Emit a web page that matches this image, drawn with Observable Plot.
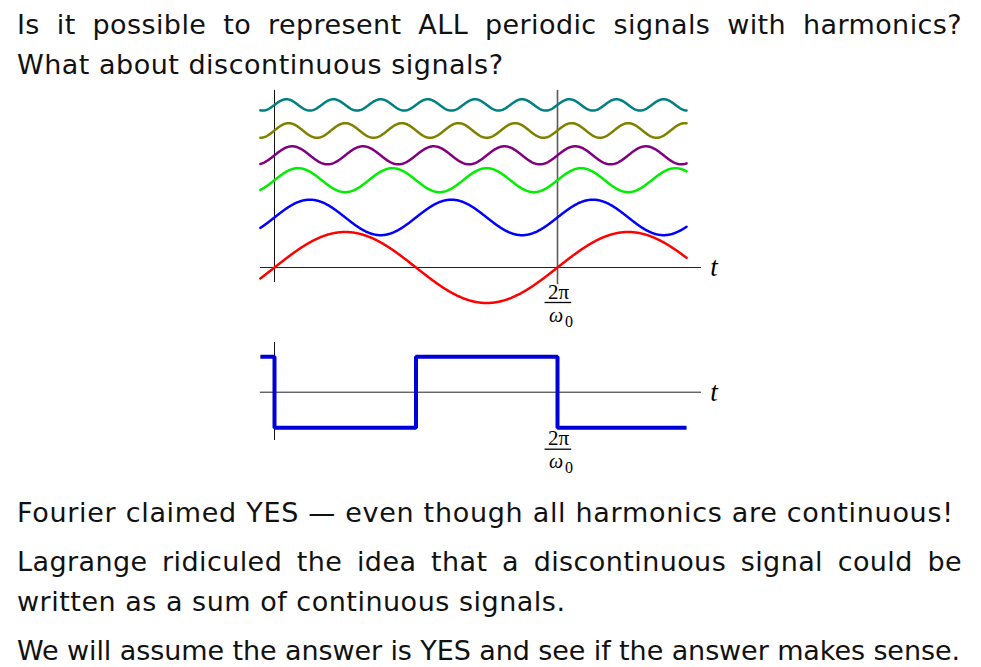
<!DOCTYPE html>
<html>
<head>
<meta charset="utf-8">
<script src="https://cdn.jsdelivr.net/npm/d3@7"></script>
<script src="https://cdn.jsdelivr.net/npm/@observablehq/plot@0.6"></script>
<style>
  html, body { margin: 0; padding: 0; background: #fff; }
  body { width: 981px; height: 667px; overflow: hidden; position: relative; font-family: "DejaVu Sans", Verdana, sans-serif; color: #111; }
  .ln { position: absolute; left: 17px; font-size: 27px; line-height: 1; white-space: nowrap; }
  .ln.just { white-space: normal; text-align: justify; text-align-last: justify; }
  #topPlot { position: absolute; left: 240px; top: 80px; }
  #botPlot { position: absolute; left: 240px; top: 335px; }
</style>
</head>
<body>
<div id="topPlot"></div>
<div id="botPlot"></div>
<script>
// ---------- data ----------
const slideLines = [
  "Is it possible to represent ALL periodic signals with harmonics?",
  "What about discontinuous signals?",
  "Fourier claimed YES — even though all harmonics are continuous!",
  "Lagrange ridiculed the idea that a discontinuous signal could be",
  "written as a sum of continuous signals.",
  "We will assume the answer is YES and see if the answer makes sense."
];
const harmonicN      = [1, 2, 3, 4, 5, 6];
const harmonicColor  = ["#ff0000", "#0000ff", "#00ee00", "#800080", "#808000", "#008080"];
const harmonicAmp    = [1.0, 0.50, 0.338, 0.254, 0.206, 0.16];   // relative to fundamental
const harmonicOffset = [0, 1.41, 2.46, 3.16, 3.86, 4.58];        // vertical stacking
const tStart = -0.05, tEnd = 1.456;                              // in periods (2π/ω0)
const periodTickT = 1;
const periodNum = "2π";
const periodDenSym = "ω";
const periodDenSub = "0";
const squareT = [-0.05, 0, 0.5, 1, 1.456];
const squareV = [1, -1, 1, -1, -1];

// ---------- text layout ----------
const lineBaseline = [34, 74, 522, 571, 611, 660];
const lineRight    = [962, 503, 953, 962, 565, 960];
const lineJustify  = [true, false, false, true, false, false];
const made = [];
slideLines.forEach((txt, i) => {
  const div = document.createElement("div");
  div.className = "ln" + (lineJustify[i] ? " just" : "");
  const span = document.createElement("span");
  span.textContent = txt;
  const mk = document.createElement("span");
  mk.style.cssText = "display:inline-block;width:0;height:0;vertical-align:baseline";
  div.append(span, mk);
  document.body.append(div);
  made.push({div, span, mk, txt, i});
});
const lsList = [];
made.forEach(m => {
  if (!lineJustify[m.i]) {
    const w = m.span.getBoundingClientRect().width;
    const target = lineRight[m.i] - 17;
    const ls = (target - w) / (m.txt.length - 1);
    m.span.style.letterSpacing = ls + "px";
    lsList.push(ls);
  }
});
const avgLs = d3.mean(lsList);
made.forEach(m => {
  if (lineJustify[m.i]) {
    m.div.style.width = (lineRight[m.i] - 17) + "px";
    m.span.style.letterSpacing = avgLs + "px";
  }
  const base = m.mk.offsetTop;
  m.div.style.top = (lineBaseline[m.i] - base) + "px";
});

// ---------- top plot: harmonics ----------
const N = 800;
const wave = harmonicN.flatMap((n, i) => d3.range(N + 1).map(k => {
  const t = tStart + (tEnd - tStart) * k / N;
  return {n, t, v: harmonicOffset[i] + harmonicAmp[i] * Math.sin(2 * Math.PI * n * t)};
}));

const serif = "'Liberation Serif', 'DejaVu Serif', serif";
function fracLabel(dyNum, dyBar, dyDen) {
  return [
    Plot.text([periodNum], {x: periodTickT, y: 0, dx: 1, dy: dyNum, lineAnchor: "bottom", fontFamily: serif, fontSize: 21, fill: "#000"}),
    Plot.ruleY([0], {x1: periodTickT - 0.044, x2: periodTickT + 0.05, dy: dyBar, stroke: "#000", strokeWidth: 1.3}),
    Plot.text([periodDenSym], {x: periodTickT, y: 0, dx: 5.5, dy: dyDen, textAnchor: "end", lineAnchor: "bottom", fontFamily: serif, fontStyle: "italic", fontSize: 20, fill: "#000"}),
    Plot.text([periodDenSub], {x: periodTickT, y: 0, dx: 7.5, dy: dyDen + 5, textAnchor: "start", lineAnchor: "bottom", fontFamily: serif, fontSize: 16, fill: "#000"})
  ];
}

const topChart = Plot.plot({
  width: 500, height: 260, margin: 0,
  x: {domain: [0, 1], range: [34, 317], axis: null},
  y: {domain: [0, 1], range: [187, 151.5], axis: null},
  color: {type: "ordinal", domain: harmonicN, range: harmonicColor},
  marks: [
    Plot.ruleY([0], {x1: -0.05, x2: 1.509, stroke: "#222", strokeWidth: 1}),
    Plot.ruleX([0], {y1: -0.42, y2: 4.99, stroke: "#111", strokeWidth: 1}),
    Plot.ruleX([periodTickT], {y1: -0.48, y2: 4.99, stroke: "#5a5a5a", strokeWidth: 1.6}),
    Plot.line(wave, {x: "t", y: "v", z: "n", stroke: "n", strokeWidth: 2.5}),
    Plot.text(["t"], {x: 1.553, y: 0, lineAnchor: "middle", fontFamily: serif, fontStyle: "italic", fontSize: 27, fill: "#000"}),
    ...fracLabel(31, 35, 54)
  ]
});
document.getElementById("topPlot").append(topChart);

// ---------- bottom plot: square wave ----------
const sq = squareT.map((t, i) => ({t, v: squareV[i]}));
const botChart = Plot.plot({
  width: 500, height: 145, margin: 0,
  x: {domain: [0, 1], range: [34, 317], axis: null},
  y: {domain: [0, 1], range: [56.7, 21.2], axis: null},
  marks: [
    Plot.ruleY([0], {x1: -0.05, x2: 1.509, stroke: "#222", strokeWidth: 1}),
    Plot.ruleX([0], {y1: -1.36, y2: 1.4, stroke: "#111", strokeWidth: 1}),
    Plot.line(sq, {x: "t", y: "v", curve: "step-after", stroke: "#0000d8", strokeWidth: 4, strokeLinejoin: "miter", strokeLinecap: "butt"}),
    Plot.text(["t"], {x: 1.553, y: 0, lineAnchor: "middle", fontFamily: serif, fontStyle: "italic", fontSize: 27, fill: "#000"}),
    ...fracLabel(53, 57, 76)
  ]
});
document.getElementById("botPlot").append(botChart);
</script>
</body>
</html>
